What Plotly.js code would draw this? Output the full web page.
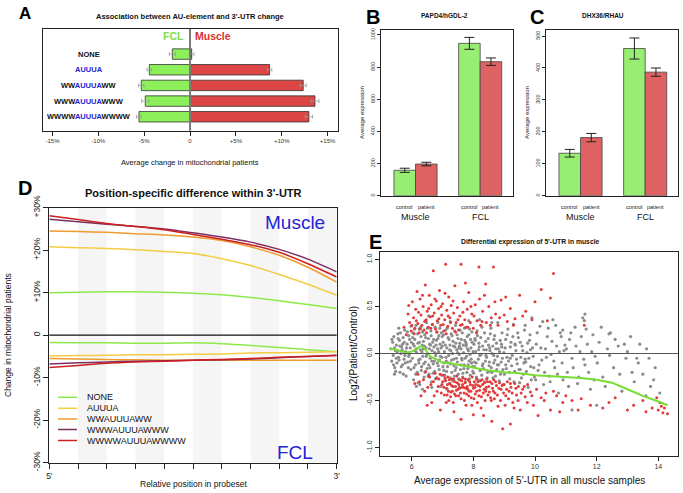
<!DOCTYPE html>
<html><head><meta charset="utf-8">
<script src="https://cdn.plot.ly/plotly-3.0.1.min.js"></script>
<style>html,body{margin:0;padding:0;background:#fff}#chart{width:683px;height:493px}</style>
</head><body><div id="chart"></div>
<script>
// ---------- Panel A ----------
const motifs = ['NONE','AUUUA','WWAUUUAWW','WWWAUUUAWWW','WWWWAUUUAWWWW'];
const fclChange = [-1.93,-4.44,-5.32,-4.88,-5.57];
const fclErr = [0.33,0.25,0.30,0.40,0.25];
const muscleChange = [0.18,8.67,12.34,13.62,12.96];
const muscleErr = [0.25,0.25,0.33,0.44,0.40];
const aTicks = [-15,-10,-5,0,5,10,15];
const aTickText = ['-15%','-10%','-5%','0','+5%','+10%','+15%'];

// ---------- Panels B, C ----------
const groups = ['Muscle','FCL'];
const conditions = ['control','patient'];
const papd4Control = [158,948];
const papd4ControlErr = [13,37];
const papd4Patient = [197,834];
const papd4PatientErr = [11,23];
const dhx36Control = [133,461];
const dhx36ControlErr = [12,33];
const dhx36Patient = [182,387];
const dhx36PatientErr = [13,13];
const bTicks = [0,200,400,600,800,1000];
const cTicks = [0,100,200,300,400,500];

// ---------- Panel D ----------
const positions = [0,1,2,3,4,5,6,7,8,9,10];
const posTickText = ["5'",'','','','','','','','','',"3'"];
const dTicks = [-30,-20,-10,0,10,20,30];
const dTickText = ['-30%','-20%','-10%','0','+10%','+20%','+30%'];
const muscleNONE  = [10.0,10.1,10.2,10.2,10.1,9.9,9.5,8.9,8.1,7.2,6.3];
const muscleAUUUA = [20.8,20.6,20.4,20.1,19.7,19.2,18.0,16.4,14.3,12.0,9.4];
const muscleWW    = [24.5,24.4,24.2,23.9,23.6,23.1,22.3,20.8,18.8,16.0,12.5];
const muscleWWW   = [27.3,26.7,26.1,25.6,25.0,24.1,23.1,21.9,20.2,17.9,14.9];
const muscleWWWW  = [28.1,27.2,26.3,25.6,24.8,23.7,22.6,21.3,19.5,16.8,13.7];
const fclNONE  = [-1.7,-1.8,-1.8,-1.9,-1.9,-1.8,-2.0,-2.4,-2.9,-3.4,-3.9];
const fclAUUUA = [-4.9,-4.8,-4.7,-4.6,-4.6,-4.5,-4.4,-4.2,-4.1,-4.0,-3.9];
const fclWW    = [-5.5,-5.6,-5.7,-5.8,-5.9,-5.9,-5.9,-5.9,-5.9,-5.9,-5.9];
const fclWWW   = [-6.8,-6.5,-6.3,-6.1,-6.0,-5.9,-5.8,-5.6,-5.3,-5.0,-4.7];
const fclWWWW  = [-7.6,-7.1,-6.6,-6.3,-6.1,-5.9,-5.7,-5.5,-5.2,-5.0,-4.8];

// ---------- Panel E ----------
const greyPoints = [
[5.32,0.05],[5.35,-0.08],[5.38,0.12],[5.4,-0.02],[5.42,0.18],[5.45,-0.15],[5.47,0.03],[5.5,0.09],[5.52,-0.1],[5.55,0.21],[5.57,-0.04],[5.6,0.14],[5.62,-0.2],[5.65,0.0],[5.67,0.07],[5.7,-0.12],[5.72,0.17],[5.75,-0.06],[5.77,0.25],[5.8,0.02],[5.82,-0.24],[5.85,0.1],[5.87,-0.09],[5.9,0.19],[5.92,-0.01],[5.95,0.06],[5.97,-0.17],[5.99,0.12],
[6.02,-0.05],[6.04,0.22],[6.06,-0.28],[6.08,0.08],[6.1,0.15],[6.12,-0.12],[6.14,0.3],[6.16,0.01],[6.18,-0.2],[6.2,0.11],[6.22,-0.07],[6.24,0.26],[6.26,-0.33],[6.28,0.04],[6.3,0.18],[6.32,-0.14],[6.34,0.09],[6.36,-0.03],[6.38,0.13],[6.4,-0.25],[6.42,0.2],[6.44,-0.09],[6.46,0.06],[6.48,0.33],[6.5,-0.16],[6.52,0.0],[6.54,0.16],[6.56,-0.22],[6.58,0.1],[6.6,-0.05],[6.62,0.24],[6.64,-0.3],[6.66,0.03],[6.68,0.12],[6.7,-0.11],[6.72,0.07],[6.74,-0.19],[6.76,0.28],[6.78,-0.02],[6.8,0.14],[6.82,-0.26],[6.84,0.05],[6.86,-0.13],[6.88,0.19],[6.9,-0.07],[6.92,0.1],[6.94,-0.35],[6.96,0.22],[6.98,-0.04],
[7.02,0.12],[7.04,-0.18],[7.06,0.02],[7.08,-0.28],[7.1,0.25],[7.12,-0.08],[7.14,0.06],[7.16,-0.14],[7.18,0.17],[7.2,-0.02],[7.22,-0.32],[7.24,0.09],[7.26,-0.11],[7.28,0.21],[7.3,-0.2],[7.32,0.0],[7.34,0.13],[7.36,-0.06],[7.38,-0.24],[7.4,0.07],[7.42,0.3],[7.44,-0.15],[7.46,0.04],[7.48,-0.09],[7.5,0.16],[7.52,-0.27],[7.54,-0.01],[7.56,0.11],[7.58,-0.17],[7.6,0.05],[7.62,-0.05],[7.64,0.22],[7.66,-0.21],[7.68,0.01],[7.7,-0.12],[7.72,0.14],[7.74,-0.3],[7.76,0.08],[7.78,-0.03],[7.8,0.18],[7.82,-0.16],[7.84,0.03],[7.86,-0.08],[7.88,0.26],[7.9,-0.23],[7.92,0.06],[7.94,-0.1],[7.96,0.12],[7.98,-0.19],
[8.02,0.1],[8.04,-0.14],[8.07,0.02],[8.1,-0.25],[8.13,0.19],[8.16,-0.06],[8.19,0.07],[8.22,-0.18],[8.25,-0.01],[8.28,0.28],[8.31,-0.11],[8.34,0.04],[8.37,-0.3],[8.4,0.13],[8.43,-0.04],[8.46,-0.2],[8.49,0.09],[8.52,-0.09],[8.55,0.21],[8.58,-0.15],[8.61,0.0],[8.64,-0.26],[8.67,0.15],[8.7,-0.07],[8.73,0.05],[8.76,-0.17],[8.79,0.33],[8.82,-0.12],[8.85,0.02],[8.88,-0.22],[8.91,0.1],[8.94,-0.05],[8.97,-0.33],
[9.03,0.06],[9.07,-0.16],[9.1,0.2],[9.14,-0.08],[9.18,-0.27],[9.22,0.12],[9.26,-0.02],[9.3,0.31],[9.34,-0.19],[9.38,0.03],[9.42,-0.11],[9.46,0.17],[9.5,-0.31],[9.54,-0.04],[9.58,0.08],[9.62,-0.22],[9.66,0.25],[9.7,-0.09],[9.74,0.01],[9.78,-0.36],[9.82,0.14],[9.86,-0.14],[9.9,0.38],[9.94,-0.03],[9.98,-0.25],
[10.04,0.1],[10.1,-0.18],[10.16,0.29],[10.22,-0.07],[10.28,-0.33],[10.34,0.05],[10.4,0.18],[10.46,-0.24],[10.52,-0.01],[10.58,0.36],[10.64,-0.15],[10.7,0.08],[10.76,-0.42],[10.82,0.22],[10.88,-0.1],[10.94,0.03],
[11.05,-0.2],[11.12,0.15],[11.2,-0.05],[11.3,0.28],[11.38,-0.32],[11.46,0.02],[11.55,0.38],[11.62,-0.12],[11.7,0.1],[11.8,-0.38],[11.88,0.2],[11.95,-0.03],
[12.08,0.12],[12.2,-0.25],[12.35,0.05],[12.45,0.22],[12.55,-0.15],[12.7,0.08],[12.82,-0.4],[12.95,-0.05],[13.1,0.18],[13.22,-0.3],[13.35,-0.1],[13.5,-0.22],[13.62,0.05],[13.75,-0.35],[13.9,-0.15],[14.05,-0.42],
[6.11,0.03],[6.23,-0.1],[6.37,0.05],[6.49,-0.01],[6.61,0.09],[6.73,-0.08],[6.87,0.02],[6.99,0.08],[7.11,-0.04],[7.23,0.04],[7.37,-0.13],[7.49,0.01],[7.63,-0.07],[7.77,0.1],[7.89,-0.01],[8.03,-0.09],[8.17,0.04],[8.29,-0.13],[8.41,-0.02],[8.53,0.06],[8.66,-0.1],[8.78,-0.03],[8.92,0.07],[9.05,-0.12],[9.2,-0.05],[9.35,0.1],[9.52,-0.17],[9.68,-0.06],[9.85,0.04],[6.05,0.1],[6.55,-0.12],[7.05,-0.1],[7.55,0.08],[8.05,0.16],[8.55,-0.19],[5.5,-0.05],[5.7,0.1],[5.9,-0.03],
[11.6,0.35],[11.62,0.42],[12.4,0.21],[12.9,0.1],[13.3,-0.05],[10.9,0.25],[11.2,-0.6],[12.0,-0.55],[13.6,-0.45],
[5.36,0.15],[5.41,-0.12],[5.44,0.06],[5.48,-0.19],[5.53,0.02],[5.56,0.16],[5.59,-0.07],[5.63,0.22],[5.66,-0.14],[5.69,0.04],[5.73,-0.22],[5.76,0.12],[5.79,-0.1],[5.83,0.06],[5.86,0.23],[5.89,-0.15],[5.93,0.15],[5.96,-0.08],[5.98,0.29],[5.61,0.08],[5.78,-0.02],[5.44,-0.22],[5.58,0.27],
[6.03,0.17],[6.07,-0.15],[6.09,0.26],[6.13,-0.22],[6.15,0.05],[6.19,0.21],[6.21,-0.31],[6.25,0.12],[6.27,-0.06],[6.29,0.28],[6.31,-0.18],[6.33,0.02],[6.35,0.23],[6.39,-0.11],[6.41,0.08],[6.43,-0.2],[6.45,0.17],[6.47,-0.03],[6.51,0.27],[6.53,-0.24],[6.57,0.05],[6.59,-0.15],[6.63,0.19],[6.65,-0.08],[6.67,0.31],[6.69,-0.21],[6.71,0.15],[6.75,0.01],[6.77,-0.27],[6.79,0.09],[6.81,0.23],[6.83,-0.1],[6.85,0.16],[6.89,-0.17],[6.91,0.27],[6.93,-0.03],[6.95,0.06],[6.97,-0.23],[6.99,0.18],[6.15,-0.35],[6.45,0.35],[6.65,-0.36],[6.85,0.33],[6.35,-0.38],[6.55,0.4],
[7.01,-0.14],[7.03,0.2],[7.07,-0.23],[7.09,0.09],[7.13,-0.19],[7.15,0.27],[7.19,-0.1],[7.21,0.15],[7.25,-0.26],[7.27,0.03],[7.29,-0.07],[7.31,0.19],[7.33,-0.29],[7.35,0.08],[7.39,0.24],[7.41,-0.18],[7.43,0.11],[7.45,-0.05],[7.47,0.2],[7.51,-0.22],[7.53,0.06],[7.57,0.25],[7.59,-0.12],[7.61,0.15],[7.65,-0.25],[7.67,0.09],[7.69,-0.16],[7.71,0.27],[7.73,-0.05],[7.75,0.12],[7.79,-0.2],[7.81,0.05],[7.83,-0.12],[7.85,0.2],[7.87,-0.27],[7.91,0.15],[7.93,-0.06],[7.95,0.23],[7.97,-0.14],[7.99,0.02],[7.25,0.34],[7.55,-0.36],[7.85,0.35],[7.15,-0.38],
[8.01,-0.21],[8.06,0.14],[8.09,-0.1],[8.12,0.24],[8.15,-0.28],[8.18,0.11],[8.21,-0.02],[8.24,0.17],[8.27,-0.23],[8.3,0.08],[8.33,-0.16],[8.36,0.22],[8.39,-0.08],[8.42,0.04],[8.45,-0.26],[8.48,0.16],[8.51,-0.13],[8.54,0.03],[8.57,0.27],[8.6,-0.2],[8.63,0.08],[8.66,-0.02],[8.69,0.19],[8.72,-0.24],[8.75,0.11],[8.78,-0.12],[8.81,0.05],[8.84,-0.29],[8.87,0.14],[8.9,-0.09],[8.93,0.22],[8.96,-0.17],[8.99,0.01],[8.2,0.36],[8.6,0.33],[8.4,-0.38],
[9.01,-0.22],[9.05,0.15],[9.09,-0.04],[9.12,0.26],[9.16,-0.2],[9.2,0.07],[9.24,-0.13],[9.28,0.18],[9.32,-0.3],[9.36,0.09],[9.4,-0.06],[9.44,0.22],[9.48,-0.17],[9.52,0.12],[9.56,-0.26],[9.6,0.03],[9.64,-0.1],[9.68,0.3],[9.72,-0.19],[9.76,0.11],[9.8,-0.05],[9.84,0.2],[9.88,-0.28],[9.92,0.06],[9.96,-0.15],
[10.02,-0.28],[10.07,0.22],[10.13,-0.12],[10.19,0.06],[10.25,0.34],[10.31,-0.2],[10.37,-0.04],[10.43,0.27],[10.49,-0.3],[10.55,0.13],[10.61,-0.08],[10.67,0.3],[10.73,-0.22],[10.79,0.02],[10.85,0.18],[10.91,-0.28],[10.97,0.09],
[11.02,0.05],[11.09,-0.35],[11.16,0.22],[11.24,-0.15],[11.33,0.08],[11.42,-0.25],[11.5,0.18],[11.58,-0.06],[11.66,0.26],[11.74,-0.2],[11.84,0.02],[11.92,-0.28],[12.02,-0.1],[12.15,0.28],[12.28,-0.35],[12.42,-0.02],[12.6,0.15],[12.75,-0.22],[13.0,0.02],[13.15,-0.2],[13.4,0.1],[13.7,-0.05],[13.85,-0.28]
];
const redPoints = [
[5.75,0.28],[5.82,0.2],[5.88,0.42],[5.93,0.33],[5.98,0.24],[6.02,0.55],[6.06,0.38],[6.1,0.27],[6.13,0.47],[6.17,0.66],[6.2,0.32],[6.24,0.22],[6.27,0.58],[6.3,0.41],[6.33,0.3],[6.37,0.5],[6.4,0.25],[6.44,0.73],[6.47,0.36],[6.5,0.45],[6.54,0.28],[6.57,0.62],[6.6,0.39],[6.63,0.52],[6.67,0.31],[6.7,0.88],[6.73,0.43],[6.77,0.26],[6.8,0.56],[6.83,0.35],[6.87,0.48],[6.9,0.67],[6.94,0.3],[6.97,0.41],[7.0,0.53],[7.04,0.24],[7.07,0.36],[7.1,0.95],[7.14,0.46],[7.17,0.29],[7.2,0.6],[7.24,0.38],[7.28,0.51],[7.32,0.27],[7.36,0.43],[7.4,0.72],[7.44,0.33],[7.48,0.49],[7.52,0.25],[7.56,0.4],[7.6,0.95],[7.64,0.31],[7.68,0.55],[7.72,0.36],[7.76,0.28],[7.8,0.47],[7.85,0.65],[7.9,0.33],[7.95,0.42],[8.0,0.27],[8.06,0.52],[8.12,0.35],[8.18,0.92],[8.24,0.3],[8.3,0.45],[8.36,0.62],[8.42,0.33],[8.5,0.5],[8.58,0.38],[8.65,0.92],[8.72,0.42],[8.8,0.3],[8.9,0.57],[9.0,0.41],[9.1,0.34],[9.2,0.48],[9.35,0.37],[9.5,0.62],[9.7,0.45],[10.6,0.85],[10.2,0.68],[10.5,0.59],[9.9,0.36],
[5.9,0.51],[6.0,0.3],[6.08,0.21],[6.15,0.35],[6.22,0.44],[6.28,0.26],[6.35,0.62],[6.42,0.34],[6.48,0.22],[6.55,0.48],[6.62,0.27],[6.68,0.4],[6.75,0.58],[6.82,0.23],[6.88,0.37],[6.95,0.5],[7.02,0.31],[7.08,0.64],[7.12,0.21],[7.18,0.4],[7.26,0.33],[7.34,0.56],[7.42,0.23],[7.5,0.36],[7.58,0.3],[7.66,0.44],[7.74,0.75],[7.82,0.28],[7.92,0.5],[8.02,0.4],[8.1,0.22],[8.2,0.58],[8.28,0.34],[8.4,0.74],[8.55,0.3],[8.7,0.55],[8.85,0.38],[9.05,0.6],[9.3,0.3],[9.6,0.4],[10.0,0.55],[10.4,0.35],[11.6,0.3],
[6.1,-0.32],[6.2,-0.22],[6.3,-0.45],[6.38,-0.28],[6.45,-0.19],[6.52,-0.36],[6.58,-0.25],[6.65,-0.52],[6.7,-0.3],[6.76,-0.21],[6.82,-0.4],[6.88,-0.27],[6.93,-0.6],[6.98,-0.33],[7.02,-0.23],[7.06,-0.44],[7.1,-0.29],[7.13,-0.37],[7.17,-0.25],[7.2,-0.5],[7.24,-0.32],[7.27,-0.41],[7.3,-0.27],[7.34,-0.35],[7.37,-0.62],[7.4,-0.3],[7.43,-0.45],[7.46,-0.24],[7.5,-0.38],[7.53,-0.33],[7.56,-0.28],[7.6,-0.48],[7.63,-0.36],[7.66,-0.26],[7.7,-0.42],[7.73,-0.31],[7.76,-0.55],[7.8,-0.35],[7.83,-0.28],[7.86,-0.4],[7.9,-0.33],[7.93,-0.47],[7.96,-0.25],[8.0,-0.37],[8.03,-0.3],[8.06,-0.43],[8.1,-0.27],[8.13,-0.52],[8.16,-0.34],[8.2,-0.39],[8.23,-0.29],[8.26,-0.46],[8.3,-0.33],[8.33,-0.66],[8.36,-0.31],[8.4,-0.4],[8.43,-0.27],[8.47,-0.44],[8.5,-0.35],[8.54,-0.3],[8.58,-0.5],[8.62,-0.37],[8.66,-0.28],[8.7,-0.42],[8.75,-0.34],[8.8,-0.56],[8.85,-0.31],[8.9,-0.38],[8.95,-0.8],[9.0,-0.33],[9.05,-0.45],[9.1,-0.3],[9.16,-0.4],[9.22,-0.36],[9.28,-0.52],[9.34,-0.32],[9.4,-0.44],[9.46,-0.35],[9.52,-0.6],[9.6,-0.38],[9.68,-0.46],[9.76,-0.33],[9.85,-0.41],[9.95,-0.55],[10.05,-0.38],[10.2,-0.47],[10.35,-0.42],[10.5,-0.6],[10.7,-0.45],[10.9,-0.52],[11.2,-0.5],[11.5,-0.48],[12.2,-0.58],[12.6,-0.47],[13.2,-0.55],[13.5,-0.5],[13.8,-0.58],[14.0,-0.6],[14.1,-0.56],[14.15,-0.63],[14.05,-0.52],[14.3,-0.64],[13.95,-0.47],[7.15,-0.44],[7.45,-0.39],[7.75,-0.37],[8.05,-0.36],[8.35,-0.38],[8.65,-0.4],[7.35,-0.52],[7.95,-0.55],[8.25,-0.58],[7.65,-0.33],[7.85,-0.45],[8.15,-0.3],
[6.25,-0.3],[6.42,-0.4],[6.55,-0.24],[6.62,-0.33],[6.73,-0.45],[6.8,-0.26],[6.86,-0.35],[6.92,-0.22],[6.96,-0.42],[7.0,-0.3],[7.04,-0.36],[7.08,-0.26],[7.12,-0.52],[7.16,-0.33],[7.19,-0.4],[7.22,-0.28],[7.26,-0.46],[7.29,-0.34],[7.32,-0.4],[7.36,-0.27],[7.39,-0.43],[7.42,-0.35],[7.48,-0.31],[7.52,-0.45],[7.55,-0.37],[7.58,-0.42],[7.62,-0.29],[7.68,-0.36],[7.71,-0.5],[7.74,-0.27],[7.78,-0.43],[7.82,-0.38],[7.88,-0.3],[7.92,-0.4],[7.98,-0.34],[8.02,-0.48],[8.08,-0.33],[8.11,-0.4],[8.18,-0.45],[8.22,-0.35],[8.28,-0.28],[8.32,-0.42],[8.38,-0.5],[8.42,-0.36],[8.46,-0.3],[8.52,-0.41],[8.56,-0.47],[8.6,-0.32],[8.68,-0.48],[8.72,-0.3],[8.78,-0.44],[8.83,-0.37],[8.88,-0.5],[8.93,-0.34],[8.98,-0.42],[9.03,-0.55],[9.08,-0.38],[9.14,-0.48],[9.2,-0.32],[9.26,-0.42],[9.32,-0.58],[9.38,-0.37],[9.45,-0.5],[9.55,-0.42],[9.65,-0.35],[9.75,-0.52],[9.9,-0.45],[10.1,-0.66],[10.3,-0.5],[10.6,-0.4],[10.8,-0.62],[11.0,-0.45],[11.4,-0.6],[11.8,-0.55],[12.4,-0.52],[13.0,-0.6],[13.6,-0.62],[14.2,-0.58],[8.0,-0.65],[7.6,-0.7],[9.2,-0.75],[8.6,-0.72],[6.5,-0.55]
];
const lowessX = [5.3,5.5,5.8,6.0,6.15,6.3,6.4,6.5,6.6,6.8,7.0,7.2,7.5,8.0,8.5,9.0,9.5,10.0,10.5,11.0,11.5,12.0,12.5,13.0,13.5,14.0,14.3];
const lowessY = [0.05,0.04,0.01,0.02,0.05,0.08,0.06,0.02,-0.03,-0.06,-0.1,-0.1,-0.12,-0.15,-0.18,-0.2,-0.21,-0.23,-0.24,-0.25,-0.26,-0.28,-0.31,-0.38,-0.45,-0.51,-0.55];
const eXTicks = [6,8,10,12,14];
const eYTicks = [-1,-0.5,0,0.5,1];
const eYTickText = ['-1.0','-0.5','0.0','0.5','1.0'];

// ---------- styling ----------
const FONT = 'Liberation Sans, Arial, Helvetica, sans-serif';
const W = 683, H = 493;
const P = x => x / W, Q = y => 1 - y / H;
const GREEN_A = '#8DF05A', RED_A = '#DE4545';
const GREEN_B = '#98EE72', RED_B = '#DE6262';
const motifColors = ['#8BEA4A','#F4CB45','#EF9B2E','#7D2E63','#CC1F1F'];
const BLUE = '#2323D6';

const baseAxis = {showline:true, mirror:true, linecolor:'#222', linewidth:1, showgrid:false, zeroline:false,
  ticks:'outside', tickcolor:'#222', tickwidth:1, tickfont:{family:FONT, color:'#222'}, fixedrange:true};
function ax(extra){ const o = JSON.parse(JSON.stringify(baseAxis)); return Object.assign(o, extra); }

const traces = [];
// Panel A
traces.push({type:'bar', orientation:'h', y:motifs, x:fclChange, xaxis:'x', yaxis:'y', offsetgroup:'a',
  marker:{color:GREEN_A, line:{color:'#333', width:0.8}},
  error_x:{type:'data', array:fclErr, color:'#9a9a9a', thickness:0.8, width:2}});
traces.push({type:'bar', orientation:'h', y:motifs, x:muscleChange, xaxis:'x', yaxis:'y', offsetgroup:'a',
  marker:{color:RED_A, line:{color:'#333', width:0.8}},
  error_x:{type:'data', array:muscleErr, color:'#9a9a9a', thickness:0.8, width:2}});
// Panels B, C
[[papd4Control,papd4ControlErr,papd4Patient,papd4PatientErr,'x2','y2'],
 [dhx36Control,dhx36ControlErr,dhx36Patient,dhx36PatientErr,'x3','y3']].forEach(p=>{
  traces.push({type:'bar', x:groups, y:p[0], xaxis:p[4], yaxis:p[5], offsetgroup:'c',
    marker:{color:GREEN_B, line:{color:'#444', width:0.8}},
    error_y:{type:'data', array:p[1], color:'#222', thickness:1, width:5}});
  traces.push({type:'bar', x:groups, y:p[2], xaxis:p[4], yaxis:p[5], offsetgroup:'p',
    marker:{color:RED_B, line:{color:'#444', width:0.8}},
    error_y:{type:'data', array:p[3], color:'#222', thickness:1, width:5}});
});
// Panel D
const muscleSeries = [muscleNONE,muscleAUUUA,muscleWW,muscleWWW,muscleWWWW];
const fclSeries = [fclNONE,fclAUUUA,fclWW,fclWWW,fclWWWW];
motifs.forEach((m,i)=>{
  traces.push({type:'scatter', mode:'lines', x:positions, y:muscleSeries[i], xaxis:'x4', yaxis:'y4',
    line:{color:motifColors[i], width:1.5, shape:'spline', smoothing:0.8}, name:m});
  traces.push({type:'scatter', mode:'lines', x:positions, y:fclSeries[i], xaxis:'x4', yaxis:'y4',
    line:{color:motifColors[i], width:1.5, shape:'spline', smoothing:0.8}, name:m});
});
// Panel E
traces.push({type:'scatter', mode:'markers', x:greyPoints.map(p=>p[0]), y:greyPoints.map(p=>p[1]), xaxis:'x5', yaxis:'y5',
  marker:{color:'#8C8C8C', size:3.2}});
traces.push({type:'scatter', mode:'markers', x:redPoints.map(p=>p[0]), y:redPoints.map(p=>p[1]), xaxis:'x5', yaxis:'y5',
  marker:{color:'#E23B3B', size:3}});
traces.push({type:'scatter', mode:'lines', x:lowessX, y:lowessY, xaxis:'x5', yaxis:'y5',
  line:{color:'#77DD33', width:2}});

// ---------- annotations ----------
const ann = [];
function txt(text, x, y, size, o){ ann.push(Object.assign({text, x, y, xref:'paper', yref:'paper', showarrow:false,
  font:{family:FONT, size, color:'#111'}, xanchor:'center', yanchor:'middle'}, o||{})); }
// Panel A
txt('<b>A</b>', P(25), Q(13), 17, {font:{family:FONT,size:17,color:'#000'}});
txt('<b>Association between AU-element and 3\'-UTR change</b>', P(190), Q(16), 7.5);
txt('Average change in mitochondrial patients', P(190), Q(162), 7.5);
txt('<b>FCL</b>', -0.45, Q(36), 10.5, {xref:'x', xanchor:'right', font:{family:FONT,size:10.5,color:'#7EDD4A'}});
txt('<b>Muscle</b>', 0.3, Q(36), 10.5, {xref:'x', xanchor:'left', font:{family:FONT,size:10.5,color:'#D93030'}});
motifs.forEach(m=>{
  const t = m.replace('AUUUA', "<span style='color:"+BLUE+"'>AUUUA</span>");
  ann.push({text:'<b>'+t+'</b>', x:-11.05, y:m, xref:'x', yref:'y', showarrow:false, xanchor:'center', yanchor:'middle',
    font:{family:FONT, size:7.5, color:'#111'}});
});
// Panels B, C
txt('<b>B</b>', P(373), Q(17), 20, {font:{family:FONT,size:20,color:'#000'}});
txt('<b>PAPD4/hGDL-2</b>', P(444), Q(15), 6.5);
txt('<b>C</b>', P(537), Q(17), 20, {font:{family:FONT,size:20,color:'#000'}});
txt('<b>DHX36/RHAU</b>', P(603), Q(15), 6.5);
txt('Average expression', P(362), Q(113), 6, {textangle:-90});
txt('Average expression', P(527), Q(113), 6, {textangle:-90});
['x2','x3'].forEach(xr=>{
  groups.forEach((g,gi)=>{
    ann.push({text:g, x:g, y:Q(217), xref:xr, yref:'paper', showarrow:false, xanchor:'center', yanchor:'middle',
      font:{family:FONT, size:9, color:'#111'}});
    conditions.forEach((c,ci)=>{
      ann.push({text:c, x:gi + (ci===0?-1:1)/6, y:Q(207), xref:xr, yref:'paper', showarrow:false, xanchor:'center', yanchor:'middle',
        font:{family:FONT, size:5.5, color:'#222'}});
    });
  });
});
// Panel D
txt('<b>D</b>', P(25), Q(188), 20, {font:{family:FONT,size:20,color:'#000'}});
txt('<b>Position-specific difference within 3\'-UTR</b>', P(193), Q(193), 11);
txt('Change in mitochondrial patients', P(8), Q(335), 8.5, {textangle:-90});
txt('Relative position in probeset', P(193), Q(484), 8.5);
txt('Muscle', P(295), Q(222), 19, {font:{family:FONT,size:19,color:BLUE}});
txt('FCL', P(295), Q(452), 19, {font:{family:FONT,size:19,color:BLUE}});
const legRows = [397.3,408.3,419,429.5,440.5];
motifs.forEach((m,i)=>{
  txt(m, P(85), Q(legRows[i]), 9, {xanchor:'left'});
});
// Panel E
txt('<b>E</b>', P(375), Q(242), 20, {font:{family:FONT,size:20,color:'#000'}});
txt('<b>Differential expression of 5\'-UTR in muscle</b>', P(530), Q(242), 6.8);
txt('Log2(Patient/Control)', P(353), Q(354), 10, {textangle:-90});
txt('Average expression of 5\'-UTR in all muscle samples', P(529), Q(480), 10);

// ---------- shapes ----------
const shapes = [];
shapes.push({type:'line', xref:'x', yref:'y domain', x0:0, x1:0, y0:0, y1:1, line:{color:'#7a7a7a', width:2}});
positions.forEach((p,i)=>{
  if (i % 2 === 1 && i < positions.length - 1) {
    shapes.push({type:'rect', xref:'x4', yref:'y4 domain', x0:positions[i], x1:positions[i+1], y0:0, y1:1,
      fillcolor:'#F5F5F5', line:{width:0}, layer:'below'});
  }
});
shapes.push({type:'line', xref:'x4 domain', yref:'y4', x0:0, x1:1, y0:0, y1:0, line:{color:'#111', width:1.2}});
shapes.push({type:'line', xref:'x5 domain', yref:'y5', x0:0, x1:1, y0:0, y1:0, line:{color:'#555', width:1}});
motifs.forEach((m,i)=>{
  shapes.push({type:'line', xref:'paper', yref:'paper', x0:P(58), x1:P(77), y0:Q(legRows[i]), y1:Q(legRows[i]),
    line:{color:motifColors[i], width:1.5}});
});

const layout = {
  width:W, height:H, margin:{l:0,r:0,t:0,b:0}, paper_bgcolor:'#fff', plot_bgcolor:'#fff',
  showlegend:false, barmode:'group', bargap:0.333, bargroupgap:0,
  font:{family:FONT, color:'#111'},
  xaxis: ax({domain:[P(43.3),P(337.7)], anchor:'y', range:[-16,16.1], tickvals:aTicks, ticktext:aTickText, ticklen:4, tickfont:{family:FONT,size:6,color:'#333'}}),
  yaxis: ax({domain:[Q(130.7),Q(29)], anchor:'x', type:'category', categoryarray:motifs.slice().reverse(), categoryorder:'array',
    range:[-0.89,5.6], showticklabels:false, ticks:''}),
  xaxis2: ax({domain:[P(381),P(512.7)], anchor:'y2', type:'category', categoryarray:groups, range:[-0.534,1.503], showticklabels:false, ticks:''}),
  yaxis2: ax({domain:[Q(195.7),Q(30)], anchor:'x2', range:[0,1031], tickvals:bTicks, tickangle:-90, ticklen:3, tickfont:{family:FONT,size:5.5,color:'#333'}}),
  xaxis3: ax({domain:[P(546),P(677.7)], anchor:'y3', type:'category', categoryarray:groups, range:[-0.534,1.503], showticklabels:false, ticks:''}),
  yaxis3: ax({domain:[Q(195.7),Q(30)], anchor:'x3', range:[0,519], tickvals:cTicks, tickangle:-90, ticklen:3, tickfont:{family:FONT,size:5.5,color:'#333'}}),
  xaxis4: ax({domain:[P(49.3),P(336.7)], anchor:'y4', range:[0,10], tickvals:positions, ticktext:posTickText, ticklen:5, tickfont:{family:FONT,size:8.5,color:'#222'}}),
  yaxis4: ax({domain:[Q(462.7),Q(207.7)], anchor:'x4', range:[-30,30], tickvals:dTicks, ticktext:dTickText, tickangle:-90, ticklen:5, tickfont:{family:FONT,size:8.5,color:'#222'}}),
  xaxis5: ax({domain:[P(380),P(678)], anchor:'y5', range:[4.97,14.64], tickvals:eXTicks, ticklen:4, tickfont:{family:FONT,size:7,color:'#333'}}),
  yaxis5: ax({domain:[Q(456),Q(252)], anchor:'x5', range:[-1.09,1.08], tickvals:eYTicks, ticktext:eYTickText, tickangle:-90, ticklen:4, tickfont:{family:FONT,size:7,color:'#333'}}),
  annotations: ann, shapes: shapes
};
Plotly.newPlot('chart', traces, layout, {staticPlot:true, displayModeBar:false});
</script></body></html>
